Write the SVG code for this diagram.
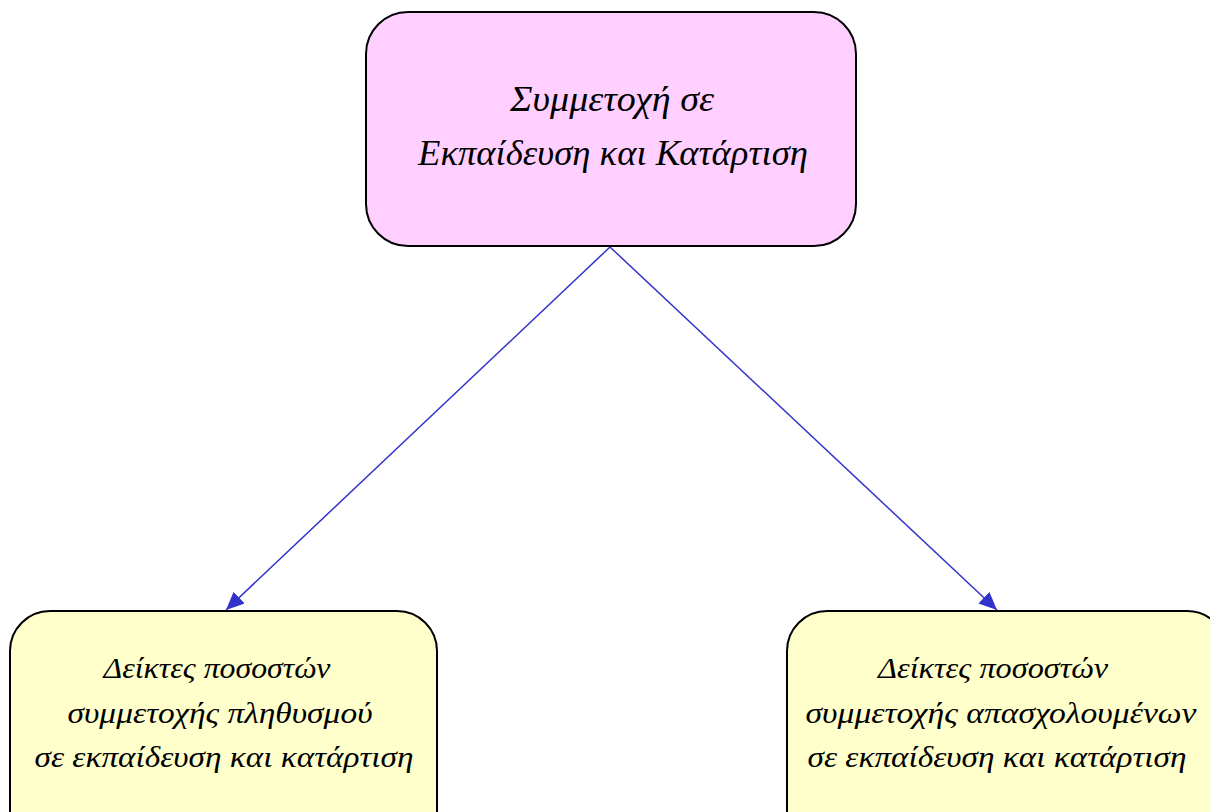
<svg xmlns="http://www.w3.org/2000/svg" width="1210" height="812" viewBox="0 0 1210 812">
<style>
.box{stroke:#000;stroke-width:2}
.t{font-family:"Liberation Serif","DejaVu Serif",serif;font-style:italic;fill:#000;text-anchor:middle}
.c{stroke:#3333CC;stroke-width:1.5;fill:none}
</style>
<defs>
<marker id="ah2" markerWidth="20" markerHeight="16" refX="18" refY="8" orient="auto" markerUnits="userSpaceOnUse">
<path d="M0,0 L18,8 L0,16 z" fill="#3333CC"/>
</marker>
</defs>
<rect width="1210" height="812" fill="#fff"/>
<g id="connectors">
<line class="c" x1="610" y1="247" x2="226" y2="610" marker-end="url(#ah2)"/>
<line class="c" x1="610" y1="247" x2="997" y2="610" marker-end="url(#ah2)"/>
</g>
<g id="top">
<rect class="box" x="366" y="12" width="490" height="234" rx="42" fill="#FFD0FF"/>
<text class="t" font-size="36" x="612" y="111" textLength="204" lengthAdjust="spacingAndGlyphs">Συμμετοχή σε</text>
<text class="t" font-size="36" x="613" y="165" textLength="390" lengthAdjust="spacingAndGlyphs">Εκπαίδευση και Κατάρτιση</text>
</g>
<g id="left">
<rect class="box" x="10" y="611" width="427" height="240" rx="40" fill="#FFFFCC"/>
<text class="t" font-size="30" x="217" y="678" textLength="227" lengthAdjust="spacingAndGlyphs">Δείκτες ποσοστών</text>
<text class="t" font-size="30" x="220" y="723" textLength="305" lengthAdjust="spacingAndGlyphs">συμμετοχής πληθυσμού</text>
<text class="t" font-size="30" x="224" y="767" textLength="379" lengthAdjust="spacingAndGlyphs">σε εκπαίδευση  και  κατάρτιση</text>
</g>
<g id="right">
<rect class="box" x="787" y="611" width="440" height="240" rx="40" fill="#FFFFCC"/>
<text class="t" font-size="30" x="993" y="678" textLength="230" lengthAdjust="spacingAndGlyphs">Δείκτες ποσοστών</text>
<text class="t" font-size="30" x="1001" y="723" textLength="391" lengthAdjust="spacingAndGlyphs">συμμετοχής απασχολουμένων</text>
<text class="t" font-size="30" x="997" y="767" textLength="379" lengthAdjust="spacingAndGlyphs">σε εκπαίδευση  και  κατάρτιση</text>
</g>
</svg>
